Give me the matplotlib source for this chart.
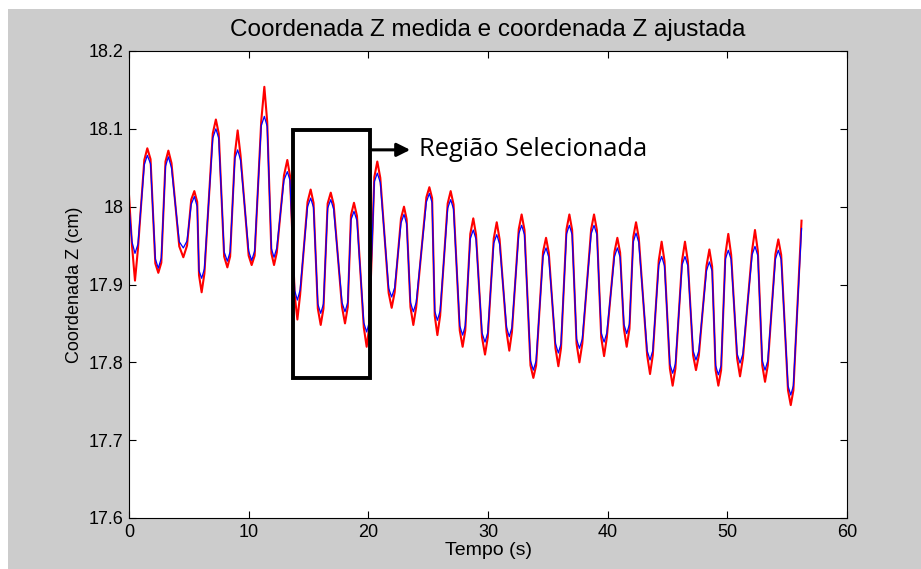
import matplotlib
matplotlib.use("Agg")
import matplotlib.pyplot as plt
from matplotlib.patches import Rectangle

# time axis: each breathing extremum with a point on either side of it (s)
tempo = [0.0,
         0.25, 0.5, 0.75, 1.28, 1.53, 1.8, 2.2, 2.45, 2.7, 3.05, 3.29, 3.55,
         4.2, 4.54, 4.85, 5.2, 5.46, 5.7, 5.85, 6.07, 6.3, 7.0, 7.26, 7.5,
         7.95, 8.22, 8.45, 8.85, 9.08, 9.32, 10.0, 10.25, 10.5, 11.05, 11.31, 11.55,
         11.9, 12.12, 12.35, 12.95, 13.23, 13.45, 13.85, 14.07, 14.3, 14.92, 15.18, 15.42,
         15.78, 16.02, 16.25, 16.6, 16.86, 17.1, 17.8, 18.05, 18.28, 18.55, 18.8, 19.05,
         19.62, 19.86, 20.08, 20.5, 20.75, 21.0, 21.7, 21.95, 22.2, 22.73, 22.98, 23.2,
         23.52, 23.76, 24.0, 24.85, 25.1, 25.33, 25.55, 25.77, 26.0, 26.63, 26.88, 27.12,
         27.64, 27.88, 28.1, 28.52, 28.77, 29.0, 29.5, 29.75, 29.98, 30.48, 30.73, 30.97,
         31.55, 31.78, 32.0, 32.57, 32.81, 33.05, 33.55, 33.79, 34.02, 34.6, 34.85, 35.08,
         35.64, 35.88, 36.1, 36.56, 36.8, 37.03, 37.4, 37.64, 37.88, 38.62, 38.86, 39.1,
         39.46, 39.7, 39.93, 40.57, 40.81, 41.04, 41.36, 41.59, 41.82, 42.14, 42.37, 42.6,
         43.3, 43.54, 43.77, 44.27, 44.51, 44.75, 45.2, 45.43, 45.66, 46.22, 46.46, 46.7,
         47.14, 47.38, 47.62, 48.26, 48.5, 48.73, 49.02, 49.25, 49.48, 49.84, 50.08, 50.32,
         50.82, 51.06, 51.3, 52.07, 52.31, 52.55, 52.92, 53.15, 53.38, 54.02, 54.26, 54.5,
         55.07, 55.3, 55.52,
         56.2]

# measured Z (cm)
z_medida = [18.015,
            17.95, 17.905, 17.946, 18.06, 18.075, 18.061, 17.927, 17.915, 17.928, 18.058, 18.072, 18.056,
            17.949, 17.935, 17.95, 18.009, 18.02, 18.006, 17.912, 17.89, 17.914, 18.094, 18.112, 18.094,
            17.936, 17.922, 17.936, 18.068, 18.098, 18.066, 17.937, 17.925, 17.937, 18.11, 18.154, 18.109,
            17.94, 17.925, 17.941, 18.04, 18.06, 18.04, 17.886, 17.855, 17.887, 18.006, 18.022, 18.005,
            17.869, 17.848, 17.869, 18.004, 18.018, 18.003, 17.871, 17.85, 17.871, 17.989, 18.005, 17.988,
            17.845, 17.82, 17.846, 18.038, 18.058, 18.037, 17.889, 17.87, 17.89, 17.985, 18.0, 17.984,
            17.871, 17.848, 17.871, 18.012, 18.025, 18.011, 17.86, 17.835, 17.86, 18.004, 18.02, 18.003,
            17.841, 17.82, 17.841, 17.965, 17.985, 17.964, 17.832, 17.81, 17.832, 17.959, 17.98, 17.958,
            17.839, 17.815, 17.839, 17.971, 17.99, 17.97, 17.796, 17.78, 17.796, 17.942, 17.96, 17.941,
            17.818, 17.795, 17.818, 17.971, 17.99, 17.97, 17.824, 17.8, 17.824, 17.971, 17.99, 17.97,
            17.832, 17.808, 17.832, 17.942, 17.96, 17.941, 17.843, 17.82, 17.843, 17.961, 17.98, 17.96,
            17.809, 17.785, 17.809, 17.931, 17.955, 17.93, 17.792, 17.77, 17.792, 17.931, 17.955, 17.93,
            17.809, 17.79, 17.809, 17.924, 17.945, 17.923, 17.79, 17.77, 17.79, 17.939, 17.965, 17.938,
            17.805, 17.782, 17.805, 17.944, 17.97, 17.943, 17.796, 17.775, 17.796, 17.939, 17.958, 17.938,
            17.764, 17.745, 17.764,
            17.982]

# fitted Z (cm)
z_ajustada = [18.00,
              17.955, 17.94, 17.952, 18.054, 18.066, 18.055, 17.933, 17.921, 17.934, 18.052, 18.064, 18.05,
              17.955, 17.947, 17.956, 18.003, 18.013, 18.0, 17.918, 17.908, 17.92, 18.088, 18.10, 18.088,
              17.942, 17.93, 17.942, 18.062, 18.073, 18.06, 17.943, 17.931, 17.943, 18.104, 18.116, 18.103,
              17.946, 17.935, 17.947, 18.034, 18.045, 18.034, 17.892, 17.88, 17.893, 18.0, 18.011, 17.999,
              17.875, 17.863, 17.875, 17.998, 18.009, 17.997, 17.877, 17.865, 17.877, 17.983, 17.994, 17.982,
              17.851, 17.839, 17.852, 18.032, 18.043, 18.031, 17.895, 17.884, 17.896, 17.979, 17.99, 17.978,
              17.877, 17.865, 17.877, 18.006, 18.017, 18.005, 17.866, 17.854, 17.866, 17.998, 18.009, 17.997,
              17.847, 17.835, 17.847, 17.959, 17.97, 17.958, 17.838, 17.826, 17.838, 17.953, 17.964, 17.952,
              17.845, 17.833, 17.845, 17.965, 17.976, 17.964, 17.802, 17.79, 17.802, 17.936, 17.947, 17.935,
              17.824, 17.812, 17.824, 17.965, 17.976, 17.964, 17.83, 17.818, 17.83, 17.965, 17.976, 17.964,
              17.838, 17.826, 17.838, 17.936, 17.947, 17.935, 17.849, 17.837, 17.849, 17.955, 17.966, 17.954,
              17.815, 17.803, 17.815, 17.925, 17.936, 17.924, 17.798, 17.786, 17.798, 17.925, 17.936, 17.924,
              17.815, 17.803, 17.815, 17.918, 17.929, 17.917, 17.796, 17.784, 17.796, 17.933, 17.944, 17.932,
              17.811, 17.799, 17.811, 17.938, 17.949, 17.937, 17.802, 17.79, 17.802, 17.933, 17.944, 17.932,
              17.77, 17.758, 17.77,
              17.972]

# selected window (s, cm)
regiao_t = [13.7, 20.15]
regiao_z = [17.78, 18.099]

plt.rcParams['font.family'] = ['Liberation Sans', 'DejaVu Sans']

fig = plt.figure(figsize=(9.21, 5.69), dpi=100)
fig.patch.set_facecolor('white')
fig.patches.append(Rectangle((8 / 921, 0), 1, 1 - 9 / 569, transform=fig.transFigure,
                             facecolor='#cccccc', edgecolor='none', zorder=-5))

ax = fig.add_axes([129 / 921, 1 - 518 / 569, 718 / 921, 467 / 569])
ax.plot(tempo, z_medida, color='#ff0000', lw=1.5)
ax.plot(tempo, z_ajustada, color='#0000ff', lw=0.9)

ax.set_xlim(0, 60)
ax.set_ylim(17.6, 18.2)
ax.set_xticks([0, 10, 20, 30, 40, 50, 60])
ax.set_yticks([17.6, 17.7, 17.8, 17.9, 18.0, 18.1, 18.2])
ax.set_yticklabels(['17.6', '17.7', '17.8', '17.9', '18', '18.1', '18.2'])
ax.tick_params(direction='in', top=True, right=True, labelsize=13, length=5,
               width=0.8, pad=4)
for s in ax.spines.values():
    s.set_linewidth(0.8)

ax.set_title('Coordenada Z medida e coordenada Z ajustada', fontsize=17.5, pad=11)
ax.set_xlabel('Tempo (s)', fontsize=14, labelpad=1)
ax.set_ylabel('Coordenada Z (cm)', fontsize=13, labelpad=4)

ax.add_patch(Rectangle((regiao_t[0], regiao_z[0]), regiao_t[1] - regiao_t[0],
                       regiao_z[1] - regiao_z[0], fill=False, edgecolor='black',
                       lw=2.8, zorder=5))
ax.annotate('', xy=(23.5, 18.073), xytext=(regiao_t[1], 18.073),
            arrowprops=dict(arrowstyle='-|>', color='black', lw=2.2,
                            mutation_scale=20, shrinkA=0, shrinkB=0))
ax.text(24.2, 18.073, 'Região Selecionada', fontsize=18.3, family='Open Sans',
        va='center', ha='left')

fig.savefig('out.png', dpi=100)
